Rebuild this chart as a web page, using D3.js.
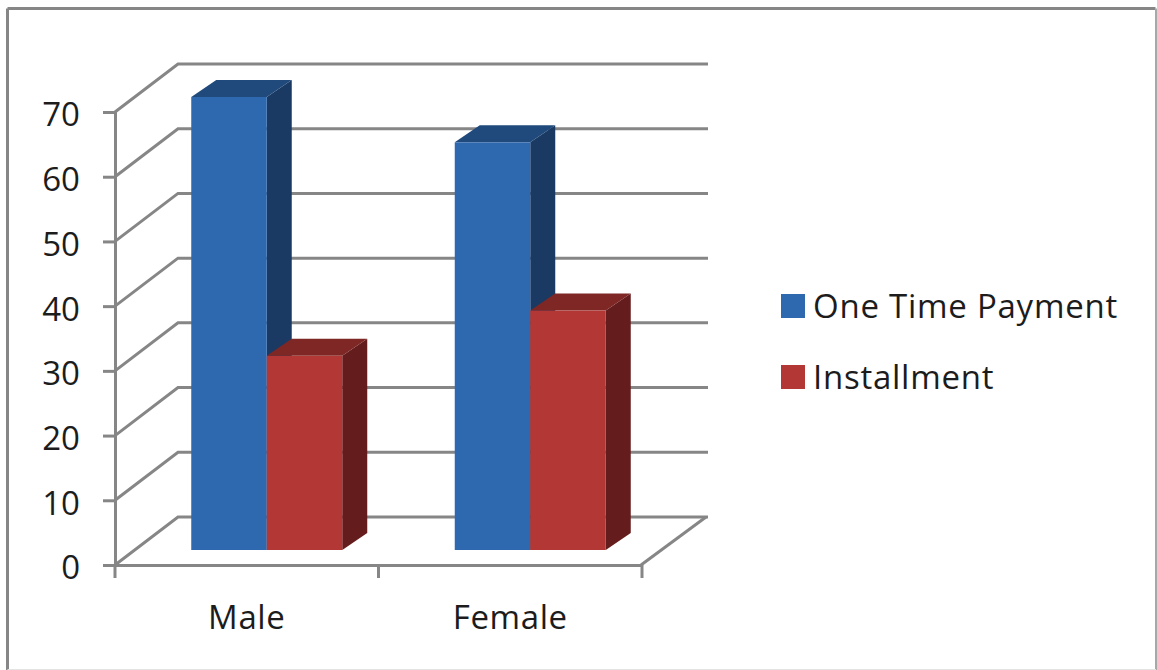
<!DOCTYPE html>
<html>
<head>
<meta charset="utf-8">
<script src="https://cdn.jsdelivr.net/npm/d3@7"></script>
<style>
  html, body { margin: 0; padding: 0; background: #fff; }
  svg { display: block; }
  text { font-family: "Open Sans", sans-serif; fill: #1c1c1c; }
</style>
</head>
<body>
<svg id="chart" width="1157" height="670"></svg>
<script>
const categories = ["Male", "Female"];
const seriesNames = ["One Time Payment", "Installment"];
const oneTimePayment = [70, 63];
const installment = [30, 37];
const yTicks = [0, 10, 20, 30, 40, 50, 60, 70];

const seriesValues = [oneTimePayment, installment];
const frontColors = ["#2e69b0", "#b23735"];
const topColors = ["#204a7c", "#7e2725"];
const sideColors = ["#1b3a63", "#641d1c"];
const gridColor = "#868686";

const svg = d3.select("#chart");

// Plot box on the front plane of the 3D projection
const y = d3.scaleLinear().domain([0, 70]).range([565, 112]);
const x0 = d3.scaleBand().domain(categories).range([115, 642]);
const barSpan = 151;
const x1 = d3.scaleBand().domain([0, 1]).range([0, barSpan]);

// Projection offsets: full wall depth, and the bars' placement and thickness within it
const wall = { dx: 63, dy: -48 };
const barInset = { dx: 20, dy: -15 };
const barDepth = { dx: 25, dy: -17 };

// Chart frame: heavy on the top and left, fading on the right and bottom
const frame = [
  { x1: 7.5, y1: 8.5, x2: 1155.5, y2: 8.5, color: "#868686", w: 3 },
  { x1: 7.5, y1: 8.5, x2: 7.5, y2: 670, color: "#868686", w: 3 },
  { x1: 1156, y1: 8.5, x2: 1156, y2: 670, color: "#a8a8a8", w: 2 },
  { x1: 7.5, y1: 669.5, x2: 1156, y2: 669.5, color: "#e4e4e4", w: 1 }
];
svg.append("g").selectAll("line").data(frame).join("line")
  .attr("x1", d => d.x1).attr("y1", d => d.y1)
  .attr("x2", d => d.x2).attr("y2", d => d.y2)
  .attr("stroke", d => d.color).attr("stroke-width", d => d.w);

// Gridlines running along the side wall and back wall
const line = d3.line();
svg.append("g").selectAll("path").data(yTicks).join("path")
  .attr("d", v => line([
    [x0.range()[0], y(v)],
    [x0.range()[0] + wall.dx, y(v) + wall.dy],
    [x0.range()[1] + 66, y(v) + wall.dy]
  ]))
  .attr("fill", "none").attr("stroke", gridColor).attr("stroke-width", 3);

// Right edge of the floor
svg.append("path")
  .attr("d", line([
    [x0.range()[1] - 1, y(0)],
    [x0.range()[1] + 64, y(0) + wall.dy]
  ]))
  .attr("fill", "none").attr("stroke", gridColor).attr("stroke-width", 3);

// Value axis
const yAxis = svg.append("g")
  .attr("transform", `translate(${x0.range()[0]},0)`)
  .call(d3.axisLeft(y).tickValues(yTicks).tickSize(12).tickPadding(23).tickFormat(d3.format("d")));
yAxis.selectAll("path, line").attr("stroke", gridColor).attr("stroke-width", 3);
yAxis.selectAll("text")
  .attr("font-size", 33).attr("dy", "0.42em")
  .style("font-family", '"Open Sans", sans-serif').attr("fill", "#1c1c1c");

// Category axis: line and ticks on the band edges, labels at the band centres
const xAxis = svg.append("g")
  .attr("transform", `translate(0,${y(0)})`)
  .call(d3.axisBottom(x0).tickSize(0).tickPadding(41));
xAxis.selectAll("path").attr("stroke", gridColor).attr("stroke-width", 3);
xAxis.selectAll("text")
  .attr("font-size", 33).attr("letter-spacing", 0.6)
  .style("font-family", '"Open Sans", sans-serif').attr("fill", "#1c1c1c");

svg.append("g").selectAll("line")
  .data([x0.range()[0], ...categories.map(c => x0(c) + x0.step())])
  .join("line")
  .attr("x1", d => d).attr("x2", d => d)
  .attr("y1", y(0)).attr("y2", y(0) + 13)
  .attr("stroke", gridColor).attr("stroke-width", 3);

// Bars: drawn back to front so each front face covers what sits behind it
const bars = [];
categories.forEach((c, i) => {
  seriesNames.forEach((s, j) => {
    const left = x0(c) + (x0.bandwidth() - barSpan) / 2 + x1(j) + barInset.dx;
    bars.push({
      left,
      right: left + x1.bandwidth(),
      top: y(seriesValues[j][i]) + barInset.dy,
      base: y(0) + barInset.dy,
      series: j
    });
  });
});

const barGroup = svg.append("g");
const polygon = pts => pts.map(p => p.join(",")).join(" ");
bars.forEach(b => {
  const dx = barDepth.dx, dy = barDepth.dy;
  barGroup.append("polygon")
    .attr("points", polygon([[b.right, b.top], [b.right + dx, b.top + dy], [b.right + dx, b.base + dy], [b.right, b.base]]))
    .attr("fill", sideColors[b.series]);
  barGroup.append("polygon")
    .attr("points", polygon([[b.left, b.top], [b.left + dx, b.top + dy], [b.right + dx, b.top + dy], [b.right, b.top]]))
    .attr("fill", topColors[b.series]);
  barGroup.append("rect")
    .attr("x", b.left).attr("y", b.top)
    .attr("width", b.right - b.left).attr("height", b.base - b.top)
    .attr("fill", frontColors[b.series]);
});

// Legend
const legendY = d3.scalePoint().domain(seriesNames).range([306, 377]);
const legend = svg.append("g").selectAll("g").data(seriesNames).join("g")
  .attr("transform", d => `translate(781,${legendY(d)})`);
legend.append("rect")
  .attr("x", 0).attr("y", -12).attr("width", 24).attr("height", 24)
  .attr("fill", (d, i) => frontColors[i]);
legend.append("text")
  .attr("x", 32).attr("dy", "0.35em")
  .attr("font-size", 33).attr("letter-spacing", 0.75)
  .text(d => d);
</script>
</body>
</html>
